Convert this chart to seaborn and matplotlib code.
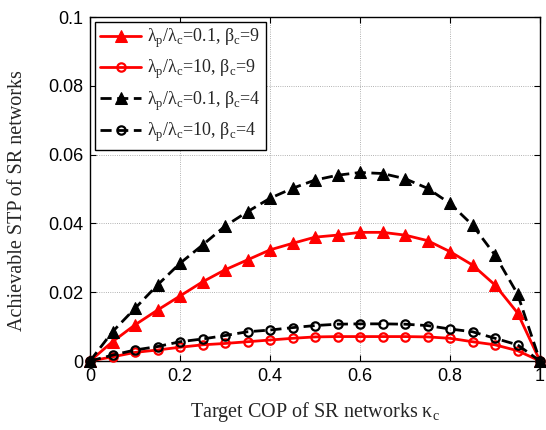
import numpy as np
import pandas as pd
import seaborn as sns
import matplotlib
matplotlib.use('Agg')
import matplotlib.pyplot as plt

# target COP values on the x axis
kappa = [0, 0.05, 0.1, 0.15, 0.2, 0.25, 0.3, 0.35, 0.4, 0.45, 0.5,
         0.55, 0.6, 0.65, 0.7, 0.75, 0.8, 0.85, 0.9, 0.95, 1.0]

# achievable STP
stp_01_b9 = [0, 0.0056, 0.0105, 0.0148, 0.0189, 0.0230, 0.0265, 0.0294, 0.0323, 0.0342, 0.0360,
             0.0366, 0.0374, 0.0374, 0.0366, 0.0350, 0.0318, 0.0279, 0.0221, 0.0140, 0]
stp_10_b9 = [0, 0.0012, 0.0025, 0.0032, 0.0040, 0.0047, 0.0051, 0.0056, 0.0061, 0.0066, 0.0070,
             0.0071, 0.0071, 0.0071, 0.0071, 0.0070, 0.0066, 0.0056, 0.0047, 0.0030, 0]
stp_01_b4 = [0, 0.0085, 0.0153, 0.0221, 0.0284, 0.0337, 0.0392, 0.0434, 0.0473, 0.0502, 0.0526,
             0.0540, 0.0548, 0.0545, 0.0530, 0.0502, 0.0458, 0.0395, 0.0308, 0.0195, 0]
stp_10_b4 = [0, 0.0017, 0.0032, 0.0042, 0.0056, 0.0064, 0.0074, 0.0085, 0.0090, 0.0097, 0.0103,
             0.0107, 0.0108, 0.0108, 0.0107, 0.0103, 0.0093, 0.0085, 0.0066, 0.0047, 0]

labels = ['λ$_\\mathrm{p}$/λ$_\\mathrm{c}$=0.1, β$_\\mathrm{c}$=9',
          'λ$_\\mathrm{p}$/λ$_\\mathrm{c}$=10, β$_\\mathrm{c}$=9',
          'λ$_\\mathrm{p}$/λ$_\\mathrm{c}$=0.1, β$_\\mathrm{c}$=4',
          'λ$_\\mathrm{p}$/λ$_\\mathrm{c}$=10, β$_\\mathrm{c}$=4']

sns.set_style('ticks')
plt.rcParams['font.family'] = ['Liberation Sans', 'DejaVu Sans']
plt.rcParams['mathtext.fontset'] = 'custom'
plt.rcParams['mathtext.rm'] = 'Liberation Serif'

fig = plt.figure(figsize=(5.46, 4.30), dpi=100)
ax = fig.add_axes([90 / 546, 69 / 430, 450 / 546, 344 / 430])

series = [stp_01_b9, stp_10_b9, stp_01_b4, stp_10_b4]
styles = [
    dict(color='red', linestyle='-', marker='^', markersize=8, markerfacecolor='red', markeredgecolor='red'),
    dict(color='red', linestyle='-', marker='o', markersize=6, markerfacecolor='none', markeredgecolor='red', markeredgewidth=1.6),
    dict(color='black', linestyle=(0, (4, 2)), marker='^', markersize=8, markerfacecolor='black', markeredgecolor='black'),
    dict(color='black', linestyle=(0, (4, 2)), marker='o', markersize=6, markerfacecolor='none', markeredgecolor='black', markeredgewidth=1.6),
]
for vals, lab, st in zip(series, labels, styles):
    df = pd.DataFrame({'kappa': kappa, 'stp': vals})
    sns.lineplot(data=df, x='kappa', y='stp', ax=ax, label=lab, linewidth=2,
                 dashes=False, clip_on=False, zorder=3, **st)

ax.set_xlim(0, 1)
ax.set_ylim(0, 0.1)
ax.set_xticks([0, 0.2, 0.4, 0.6, 0.8, 1])
ax.set_xticklabels(['0', '0.2', '0.4', '0.6', '0.8', '1'])
ax.set_yticks([0, 0.02, 0.04, 0.06, 0.08, 0.1])
ax.set_yticklabels(['0', '0.02', '0.04', '0.06', '0.08', '0.1'])
ax.tick_params(direction='in', top=True, right=True, labelsize=13, length=4, width=0.8,
               colors='black', pad=5)
ax.grid(True, color='0.6', linewidth=0.6, linestyle=':')
for sp in ax.spines.values():
    sp.set_color('black')
    sp.set_linewidth(1)

ax.set_xlabel('Target COP of SR networks κ$_\\mathrm{c}$', family='Liberation Serif', fontsize=14.5, labelpad=11)
ax.set_ylabel('Achievable STP of SR networks', family='Liberation Serif', fontsize=14.5)
ax.yaxis.set_label_coords(-0.14, 0.465)

leg = ax.legend(loc='upper left', prop={'family': 'Liberation Serif', 'size': 13},
                frameon=True, fancybox=False, framealpha=1, edgecolor='black',
                handlelength=2.3, handletextpad=0.3, borderaxespad=0.25,
                labelspacing=0.45, borderpad=0.3)
leg.get_frame().set_linewidth(1)

plt.savefig('out.png', dpi=100)
